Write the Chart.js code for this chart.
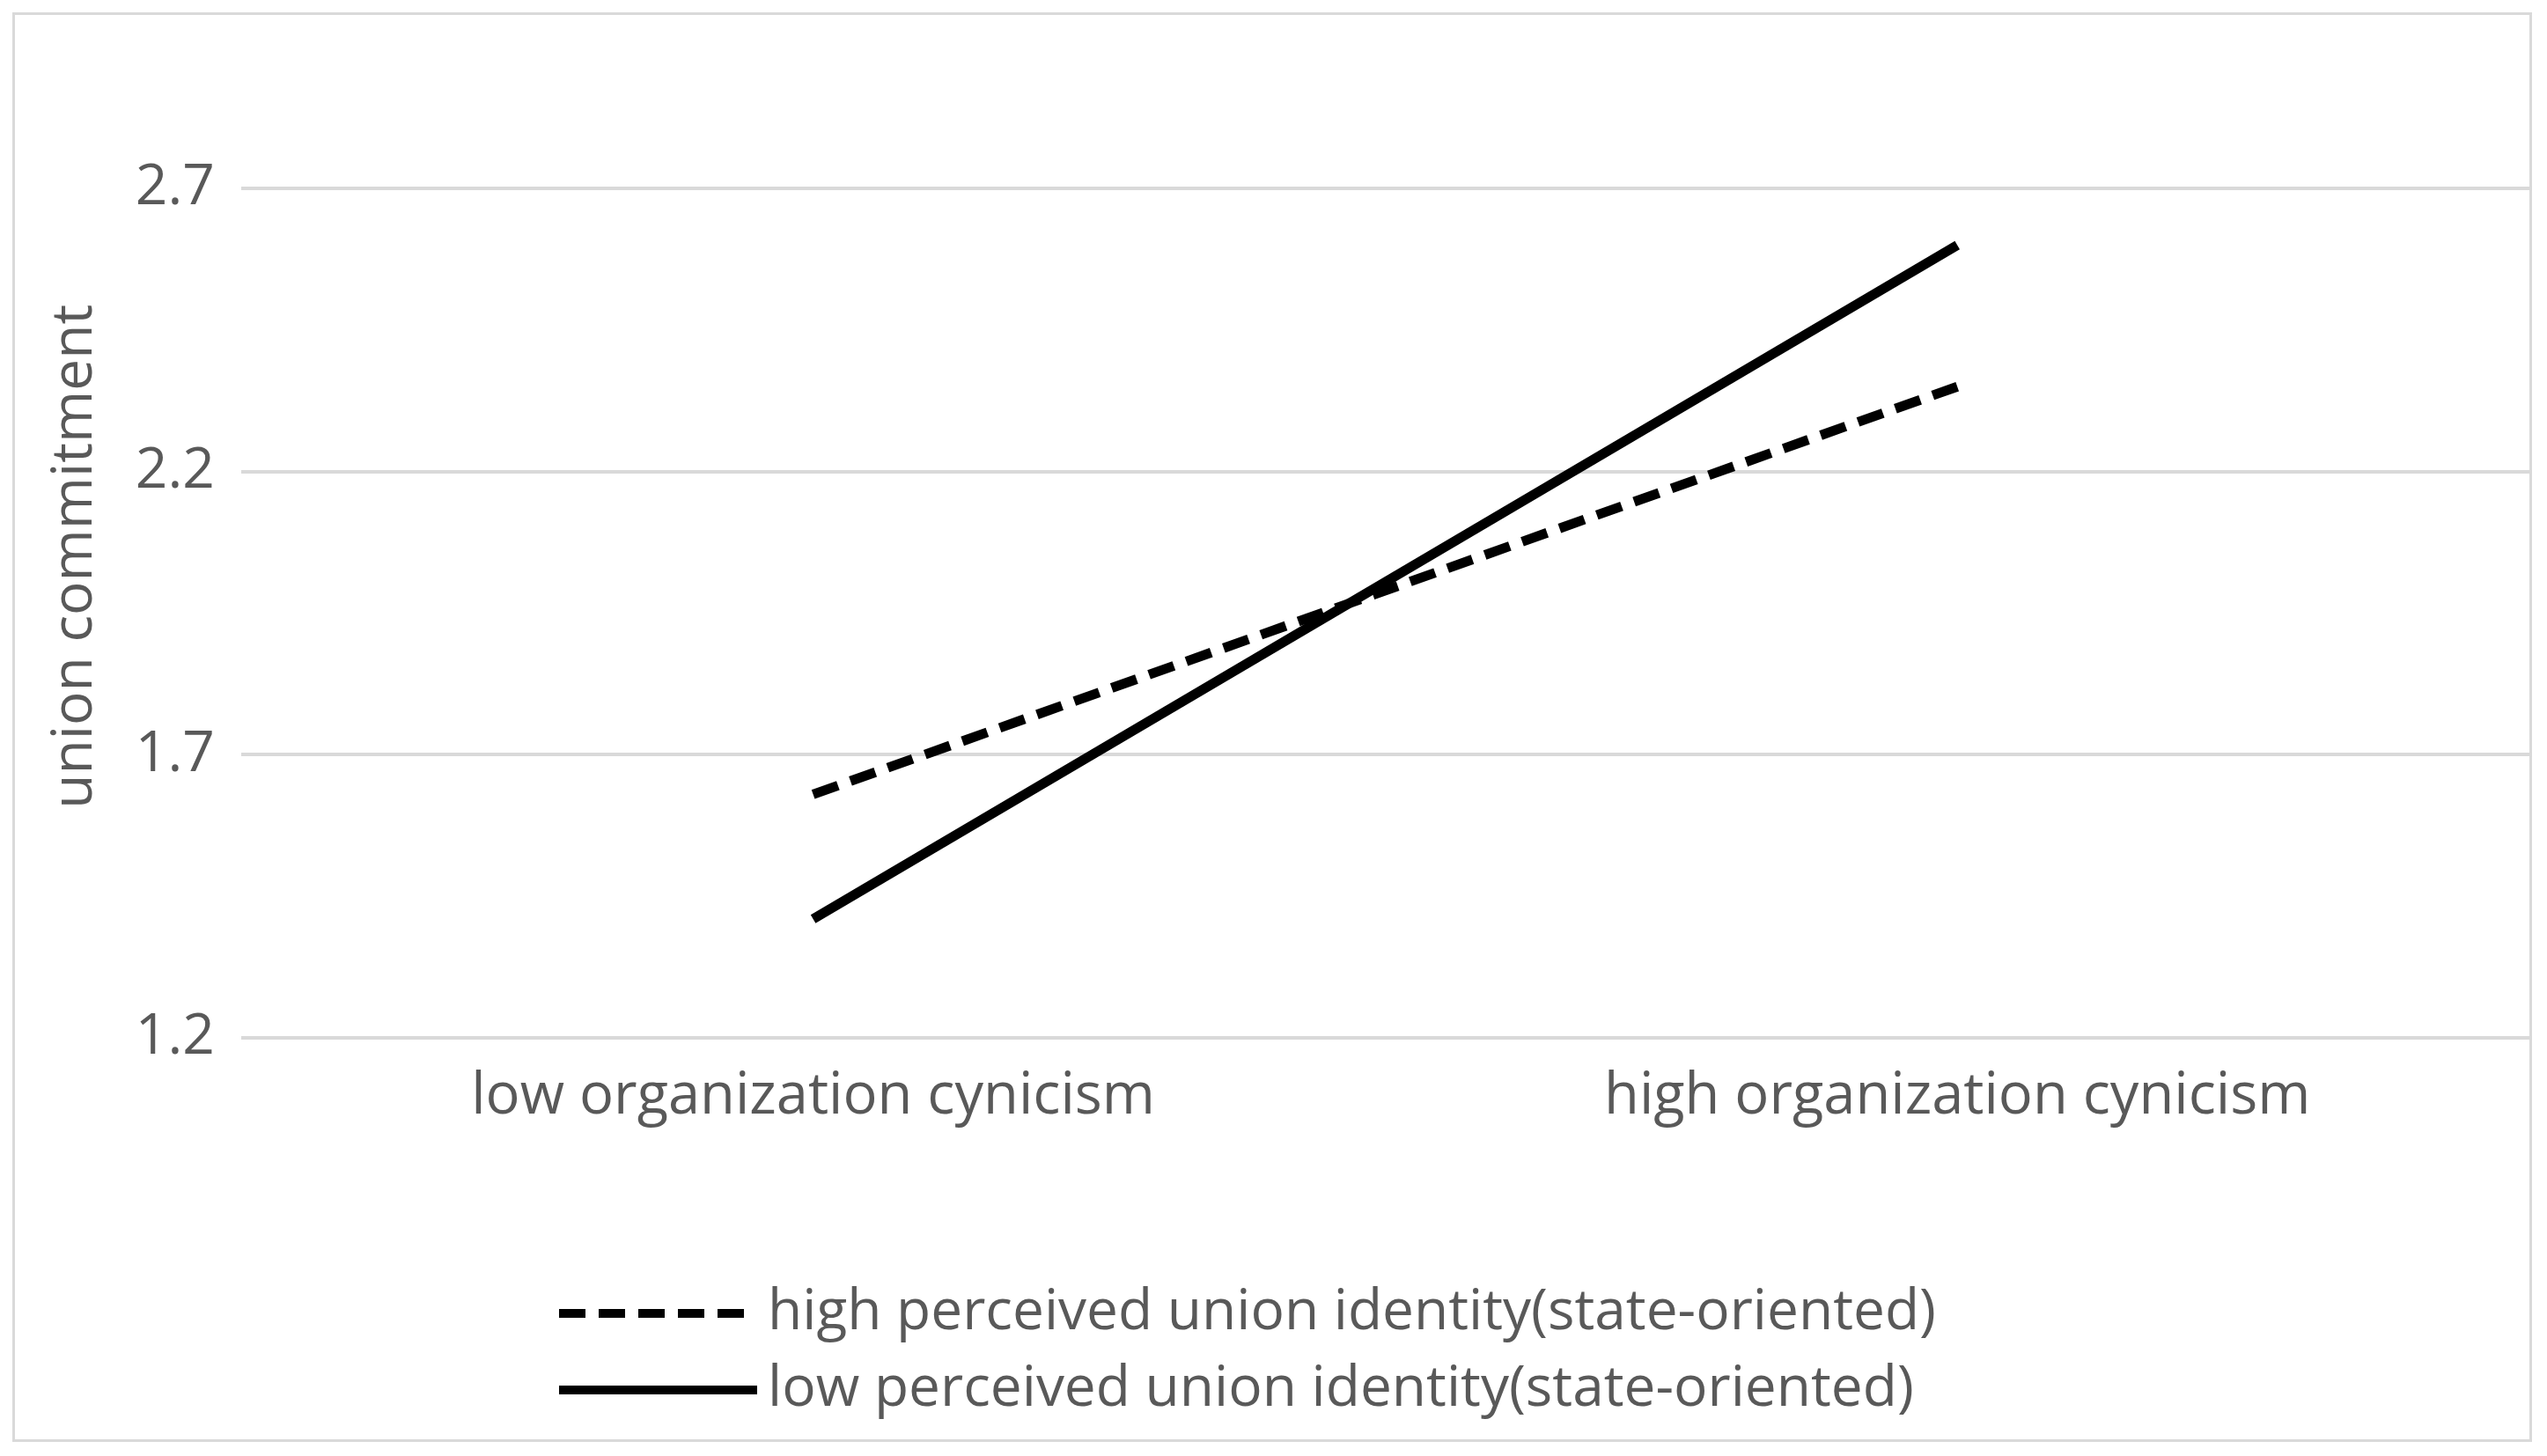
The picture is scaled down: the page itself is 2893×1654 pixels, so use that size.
<!DOCTYPE html>
<html>
<head>
<meta charset="utf-8">
<script src="https://cdn.jsdelivr.net/npm/chart.js@4/dist/chart.umd.min.js"></script>
<style>
  html, body { margin: 0; padding: 0; background: #fff; }
  #wrap { position: absolute; left: 14px; top: 14px; width: 2862px; height: 1624px; border: 3px solid #d9d9d9; box-sizing: border-box; }
</style>
</head>
<body>
<div id="wrap"><canvas id="chart"></canvas></div>
<script>
var categories = ['low organization cynicism', 'high organization cynicism'];
var highIdentity = [1.63, 2.35];
var lowIdentity = [1.41, 2.60];
var yTicks = [1.2, 1.7, 2.2, 2.7];
var seriesNames = ['high perceived union identity(state-oriented)', 'low perceived union identity(state-oriented)'];

var textColor = '#595959';
var fontFamily = 'Open Sans, Lato, sans-serif';

// legend stacked under the chart, drawn by hand
var legendPlugin = {
    id: 'stackedLegend',
    afterDraw: function (chart) {
        var ctx = chart.ctx;
        var x0 = 618, x1 = 843, rows = [1475, 1562];
        chart.data.datasets.forEach(function (ds, i) {
            ctx.save();
            ctx.strokeStyle = '#000';
            ctx.lineWidth = 10;
            ctx.setLineDash(ds.borderDash || []);
            ctx.beginPath();
            ctx.moveTo(x0, rows[i]);
            ctx.lineTo(x1, rows[i]);
            ctx.stroke();
            ctx.setLineDash([]);
            ctx.fillStyle = textColor;
            ctx.font = '64px ' + fontFamily;
            ctx.textBaseline = 'middle';
            ctx.fillText(ds.label, x1 + 12, rows[i]);
            ctx.restore();
        });
    }
};

new Chart(document.getElementById('chart').getContext('2d'), {
    type: 'line',
    data: {
        labels: categories,
        datasets: [
            { label: seriesNames[0], data: highIdentity, borderColor: '#000', borderWidth: 11, borderDash: [30, 15], pointRadius: 0, fill: false },
            { label: seriesNames[1], data: lowIdentity, borderColor: '#000', borderWidth: 11, pointRadius: 0, fill: false }
        ]
    },
    options: {
        responsive: true,
        maintainAspectRatio: false,
        animation: false,
        layout: { padding: { left: 30, right: 0, top: 25, bottom: 330 } },
        plugins: { legend: { display: false }, tooltip: { enabled: false } },
        scales: {
            x: {
                offset: true,
                grid: { display: false },
                border: { display: false },
                ticks: { color: textColor, font: { size: 65, family: fontFamily }, padding: 20, maxRotation: 0 }
            },
            y: {
                min: 1.2,
                max: 2.9,
                afterBuildTicks: function (axis) {
                    axis.ticks = yTicks.map(function (v) { return { value: v }; });
                },
                grid: { color: '#d9d9d9', lineWidth: 4, drawTicks: false },
                border: { display: false },
                ticks: { color: textColor, font: { size: 64, family: fontFamily }, padding: 30,
                    callback: function (v) { return v.toFixed(1); } },
                title: { display: true, text: 'union commitment', color: textColor, font: { size: 64, family: fontFamily }, padding: 0 }
            }
        }
    },
    plugins: [legendPlugin]
});
</script>
</body>
</html>
